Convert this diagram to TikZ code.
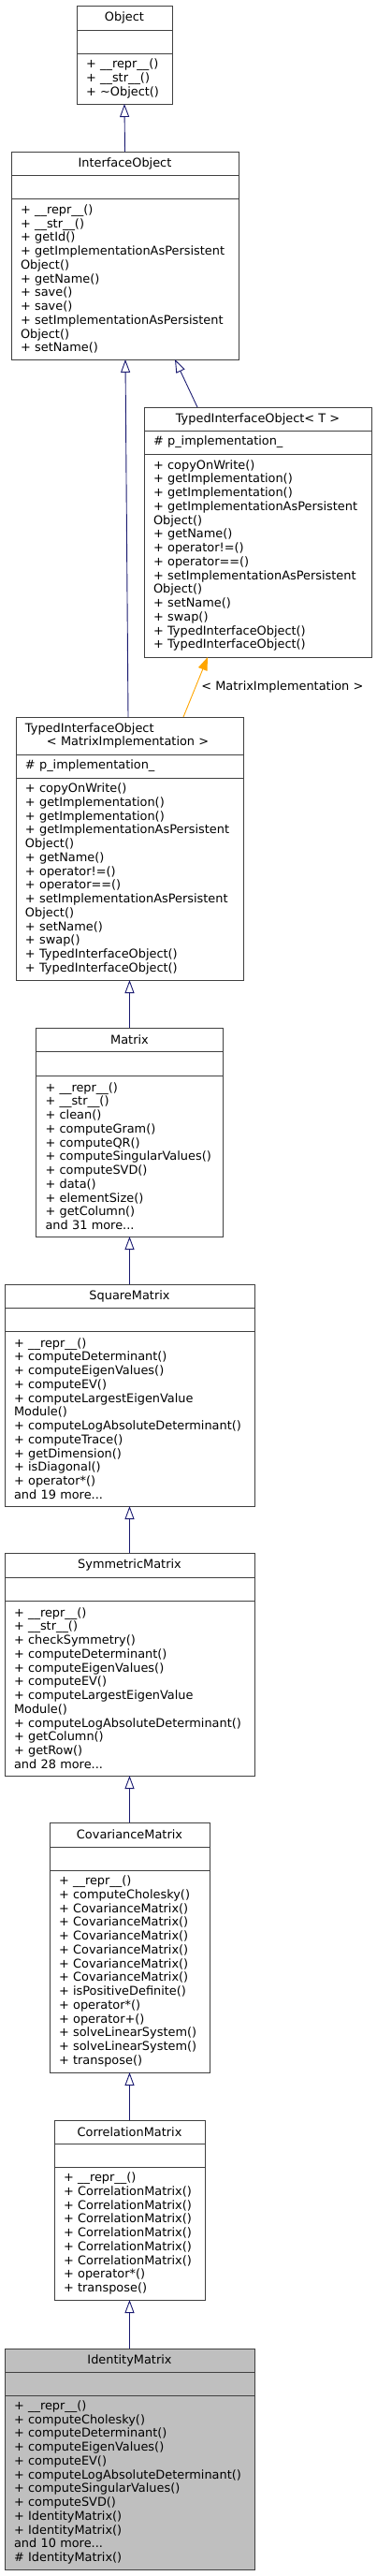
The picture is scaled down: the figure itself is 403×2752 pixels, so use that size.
\documentclass[tikz,border=0pt]{standalone}
\usepackage{fontspec}
\setmainfont{DejaVu Sans}
\usetikzlibrary{arrows.meta}
\definecolor{navy}{HTML}{191970}
\definecolor{boxline}{HTML}{404040}
\definecolor{orangeline}{HTML}{FFA500}
\definecolor{greyfill}{HTML}{BFBFBF}

\begin{document}
\begin{tikzpicture}[x=1pt,y=-1pt,font=\fontsize{12.9}{14.75}\selectfont]
	\tikzstyle{ttl}=[draw=boxline,line width=0.9pt,anchor=north west,inner sep=0pt,outer sep=0pt,align=center]
	\tikzstyle{ops}=[draw=boxline,line width=0.9pt,anchor=north west,inner xsep=10pt,inner ysep=0pt,outer sep=0pt,align=left]
	\tikzstyle{inh}=[draw=navy,line width=0.9pt,-{Triangle[open,length=14pt,width=10pt]}]
	\tikzstyle{tmpl}=[draw=orangeline,line width=0.9pt,-{Triangle[length=14pt,width=10pt]}]
	\useasboundingbox (0,0) rectangle (403,2752);
	% Object
	\node[ttl,minimum width=102pt,minimum height=26pt](objT) at (82,6) {Object};
	\node[ttl,minimum width=102pt,minimum height=25pt](objA) at (82,32) {};
	\node[ops,text width=82pt,minimum height=54pt](objM) at (82,57) {+ \_\_repr\_\_()\\+ \_\_str\_\_()\\+ \textasciitilde Object()};
	% InterfaceObject
	\node[ttl,minimum width=243pt,minimum height=25pt](ioT) at (12,162) {InterfaceObject};
	\node[ttl,minimum width=243pt,minimum height=25pt](ioA) at (12,187) {};
	\node[ops,text width=223pt,minimum height=172pt](ioM) at (12,212) {+ \_\_repr\_\_()\\+ \_\_str\_\_()\\+ getId()\\+ getImplementationAsPersistent\\Object()\\+ getName()\\+ save()\\+ save()\\+ setImplementationAsPersistent\\Object()\\+ setName()};
	% TypedInterfaceObject< T >
	\node[ttl,minimum width=243pt,minimum height=25pt](tioT) at (154,435) {TypedInterfaceObject< T >};
	\node[ops,text width=223pt,minimum height=25pt](tioA) at (154,460) {\# p\_implementation\_};
	\node[ops,text width=223pt,minimum height=217pt](tioM) at (154,485) {+ copyOnWrite()\\+ getImplementation()\\+ getImplementation()\\+ getImplementationAsPersistent\\Object()\\+ getName()\\+ operator!=()\\+ operator==()\\+ setImplementationAsPersistent\\Object()\\+ setName()\\+ swap()\\+ TypedInterfaceObject()\\+ TypedInterfaceObject()};
	% TypedInterfaceObject< MatrixImplementation >
	\node[ops,text width=223pt,minimum height=40pt](tmiT) at (17,766) {TypedInterfaceObject\\\hspace*{23pt}< MatrixImplementation >};
	\node[ops,text width=223pt,minimum height=25pt](tmiA) at (17,806) {\# p\_implementation\_};
	\node[ops,text width=223pt,minimum height=216pt](tmiM) at (17,831) {+ copyOnWrite()\\+ getImplementation()\\+ getImplementation()\\+ getImplementationAsPersistent\\Object()\\+ getName()\\+ operator!=()\\+ operator==()\\+ setImplementationAsPersistent\\Object()\\+ setName()\\+ swap()\\+ TypedInterfaceObject()\\+ TypedInterfaceObject()};
	% Matrix
	\node[ttl,minimum width=200pt,minimum height=25pt](matT) at (38.5,1098) {Matrix};
	\node[ttl,minimum width=200pt,minimum height=26pt](matA) at (38.5,1123) {};
	\node[ops,text width=180pt,minimum height=172pt](matM) at (38.5,1149) {+ \_\_repr\_\_()\\+ \_\_str\_\_()\\+ clean()\\+ computeGram()\\+ computeQR()\\+ computeSingularValues()\\+ computeSVD()\\+ data()\\+ elementSize()\\+ getColumn()\\and 31 more...};
	% SquareMatrix
	\node[ttl,minimum width=267pt,minimum height=25pt](sqT) at (5,1372) {SquareMatrix};
	\node[ttl,minimum width=267pt,minimum height=25pt](sqA) at (5,1397) {};
	\node[ops,text width=247pt,minimum height=187pt](sqM) at (5,1422) {+ \_\_repr\_\_()\\+ computeDeterminant()\\+ computeEigenValues()\\+ computeEV()\\+ computeLargestEigenValue\\Module()\\+ computeLogAbsoluteDeterminant()\\+ computeTrace()\\+ getDimension()\\+ isDiagonal()\\+ operator*()\\and 19 more...};
	% SymmetricMatrix
	\node[ttl,minimum width=267pt,minimum height=26pt](symT) at (5,1659) {SymmetricMatrix};
	\node[ttl,minimum width=267pt,minimum height=25pt](symA) at (5,1685) {};
	\node[ops,text width=247pt,minimum height=187pt](symM) at (5,1710) {+ \_\_repr\_\_()\\+ \_\_str\_\_()\\+ checkSymmetry()\\+ computeDeterminant()\\+ computeEigenValues()\\+ computeEV()\\+ computeLargestEigenValue\\Module()\\+ computeLogAbsoluteDeterminant()\\+ getColumn()\\+ getRow()\\and 28 more...};
	% CovarianceMatrix
	\node[ttl,minimum width=171pt,minimum height=26pt](covT) at (53,1947) {CovarianceMatrix};
	\node[ttl,minimum width=171pt,minimum height=25pt](covA) at (53,1973) {};
	\node[ops,text width=151pt,minimum height=216pt](covM) at (53,1998) {+ \_\_repr\_\_()\\+ computeCholesky()\\+ CovarianceMatrix()\\+ CovarianceMatrix()\\+ CovarianceMatrix()\\+ CovarianceMatrix()\\+ CovarianceMatrix()\\+ CovarianceMatrix()\\+ isPositiveDefinite()\\+ operator*()\\+ operator+()\\+ solveLinearSystem()\\+ solveLinearSystem()\\+ transpose()};
	% CorrelationMatrix
	\node[ttl,minimum width=161pt,minimum height=25pt](corT) at (58,2265) {CorrelationMatrix};
	\node[ttl,minimum width=161pt,minimum height=25pt](corA) at (58,2290) {};
	\node[ops,text width=141pt,minimum height=142pt](corM) at (58,2315) {+ \_\_repr\_\_()\\+ CorrelationMatrix()\\+ CorrelationMatrix()\\+ CorrelationMatrix()\\+ CorrelationMatrix()\\+ CorrelationMatrix()\\+ CorrelationMatrix()\\+ operator*()\\+ transpose()};
	% IdentityMatrix
	\node[ttl,fill=greyfill,minimum width=267pt,minimum height=25pt](idT) at (5,2509) {IdentityMatrix};
	\node[ttl,fill=greyfill,minimum width=267pt,minimum height=25pt](idA) at (5,2534) {};
	\node[ops,fill=greyfill,text width=247pt,minimum height=186pt](idM) at (5,2559) {+ \_\_repr\_\_()\\+ computeCholesky()\\+ computeDeterminant()\\+ computeEigenValues()\\+ computeEV()\\+ computeLogAbsoluteDeterminant()\\+ computeSingularValues()\\+ computeSVD()\\+ IdentityMatrix()\\+ IdentityMatrix()\\and 10 more...\\\# IdentityMatrix()};
	\path
		(ioT.north) edge[inh] (objM.south)
		([xshift=120pt]tmiT.north west) edge[inh] ([xshift=122pt]ioM.south west)
		([xshift=57pt]tioT.north west) edge[inh] ([xshift=175pt]ioM.south west)
		(matT.north) edge[inh] (tmiM.south)
		(sqT.north) edge[inh] (matM.south)
		(symT.north) edge[inh] (sqM.south)
		(covT.north) edge[inh] (symM.south)
		(corT.north) edge[inh] (covM.south)
		(idT.north) edge[inh] (corM.south)
		([xshift=179pt]tmiT.north west) edge[tmpl] node[right,inner sep=6pt](tmplLbl) {< MatrixImplementation >} ([xshift=68pt]tioM.south west);
\end{tikzpicture}
\end{document}
